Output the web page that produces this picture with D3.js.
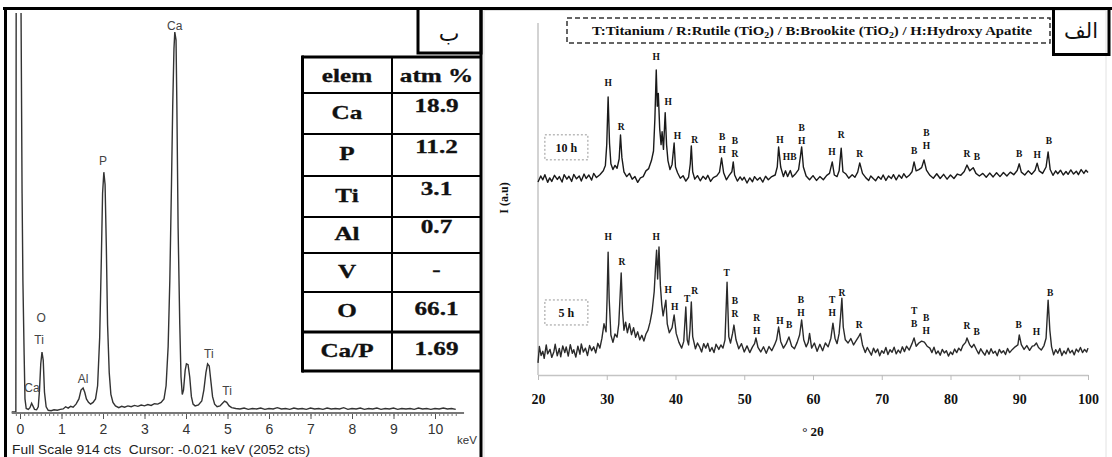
<!DOCTYPE html>
<html>
<head>
<meta charset="utf-8">
<script src="https://cdn.jsdelivr.net/npm/d3@7"></script>
<style>
  body { margin: 0; background: #fff; }
  svg { display: block; }
</style>
</head>
<body>
<svg id="fig" width="1112" height="457"></svg>
<script>
// ---------- left panel: EDS spectrum [keV, counts] ----------
const edsSpectrum = [
  [-0.2, 0], [-0.1, 0], [-0.09, 1200], [0.0, 1200], [0.02, 1000], [0.05, 500], [0.07, 300],
  [0.1, 130], [0.12, 30], [0.15, 8], [0.2, 6], [0.24, 10], [0.28, 20], [0.31, 14], [0.35, 6],
  [0.4, 5], [0.44, 12], [0.47, 50], [0.5, 110], [0.53, 137], [0.56, 118], [0.59, 45], [0.63, 12],
  [0.68, 4], [0.75, 3], [0.82, 5], [0.9, 4], [0.97, 6], [1.04, 7], [1.1, 12], [1.16, 9], [1.22, 13],
  [1.28, 11], [1.35, 18], [1.42, 30], [1.47, 50], [1.52, 55], [1.56, 45], [1.6, 30], [1.65, 22],
  [1.7, 18], [1.76, 22], [1.82, 30], [1.87, 60], [1.92, 170], [1.96, 350], [1.99, 500], [2.02, 548],
  [2.05, 520], [2.08, 380], [2.11, 200], [2.15, 90], [2.19, 40], [2.24, 22], [2.3, 14], [2.38, 10],
  [2.45, 13], [2.52, 11], [2.6, 14], [2.68, 12], [2.76, 15], [2.84, 13], [2.92, 16], [3.0, 14],
  [3.08, 17], [3.16, 15], [3.24, 19], [3.32, 18], [3.4, 22], [3.47, 30], [3.52, 60], [3.57, 150],
  [3.61, 300], [3.65, 520], [3.68, 700], [3.71, 830], [3.73, 868], [3.76, 850], [3.78, 700],
  [3.81, 420], [3.85, 200], [3.88, 80], [3.91, 40], [3.94, 50], [3.98, 95], [4.01, 110], [4.05, 108],
  [4.09, 80], [4.13, 35], [4.17, 18], [4.22, 14], [4.3, 16], [4.38, 25], [4.43, 50], [4.48, 90],
  [4.52, 110], [4.56, 105], [4.6, 70], [4.64, 35], [4.69, 18], [4.75, 12], [4.82, 14], [4.88, 20],
  [4.93, 25], [4.98, 22], [5.04, 14], [5.1, 10], [5.2, 8], [5.3, 7], [5.4, 9], [5.5, 6], [5.6, 8],
  [5.7, 7], [5.8, 9], [5.9, 6], [6.0, 8], [6.1, 7], [6.2, 10], [6.3, 7], [6.4, 8], [6.5, 6], [6.6, 9],
  [6.7, 7], [6.8, 8], [6.9, 6], [7.0, 9], [7.1, 7], [7.2, 8], [7.3, 6], [7.4, 9], [7.5, 7], [7.6, 8],
  [7.7, 7], [7.8, 10], [7.9, 6], [8.0, 8], [8.1, 7], [8.2, 9], [8.3, 6], [8.4, 8], [8.5, 7], [8.6, 9],
  [8.7, 6], [8.8, 8], [8.9, 7], [9.0, 9], [9.1, 6], [9.2, 8], [9.3, 7], [9.4, 8], [9.5, 6], [9.6, 9],
  [9.7, 7], [9.8, 8], [9.9, 6], [10.0, 8], [10.1, 7], [10.2, 9], [10.3, 7], [10.4, 8], [10.5, 6]
];
// [label, keV, counts] where the label sits
const edsPeakLabels = [
  ["Ca", 3.73, 880], ["P", 2.0, 571], ["O", 0.51, 212], ["Ti", 0.46, 162], ["Ca", 0.29, 53],
  ["Al", 1.52, 73], ["Ti", 4.55, 130], ["Ti", 4.99, 46]
];
const edsTicks = [0, 1, 2, 3, 4, 5, 6, 7, 8, 9, 10];
const edsFooter = "Full Scale 914 cts\u00a0\u00a0Cursor: -0.021 keV (2052 cts)";

// composition table
const tableHead = ["elem", "atm %"];
const elements = ["Ca", "P", "Ti", "Al", "V", "O", "Ca/P"];
const atmPercent = ["18.9", "11.2", "3.1", "0.7", "-", "66.1", "1.69"];

// ---------- right panel: XRD patterns [2theta, I (a.u.)] ----------
const xrd10h = [
  [20,60.3],[20.4,62.2],[20.7,61.0],[21,62.6],[21.4,60.2],[21.7,61.6],[22,60.5],[22.4,62.4],[22.8,61.1],
  [23.1,62.0],[23.5,60.3],[23.8,62.6],[24.2,61.2],[24.5,62.1],[24.9,60.5],[25.2,62.7],[25.6,61.3],
  [26,62.2],[26.3,60.6],[26.7,62.8],[27,61.4],[27.4,62.5],[27.8,60.9],[28.1,63.0],[28.5,61.7],
  [29,62.6],[29.5,63.8],[29.8,65.5],[30.0,72],[30.2,86.9],[30.4,72.5],[30.6,66],[30.9,64.2],[31.2,65.5],
  [31.5,64.6],[31.8,67.5],[32.0,75],[32.2,68],[32.5,63.5],[32.9,62.0],[33.3,63.0],[33.7,61.2],[34.1,62.0],
  [34.5,60.2],[34.9,61.6],[35.3,62.0],[35.7,63.8],[36.1,64.5],[36.5,67],[36.8,70],[37.0,80],[37.2,95.3],
  [37.35,84],[37.5,88],[37.7,77],[37.9,72],[38.05,76],[38.25,70.5],[38.5,82],[38.7,72],[38.9,67],
  [39.2,64.2],[39.5,65.8],[39.8,72.5],[40.0,65],[40.3,63.2],[40.7,61.5],[41.1,62.3],[41.5,60.6],
  [41.9,61.8],[42.15,66],[42.3,71.6],[42.5,63.5],[42.8,61.2],[43.2,62.3],[43.6,60.7],[44,62.1],
  [44.4,61.2],[44.7,62.4],[45.1,60.5],[45.5,61.7],[46,62.2],[46.4,63.4],[46.7,67.8],[47.0,63.2],[47.4,61.0],
  [47.8,62.4],[48.2,63.5],[48.4,66.6],[48.6,62.5],[49,60.6],[49.4,61.9],[49.7,60.9],[50,61.8],[50.4,60.0],
  [50.8,61.6],[51.2,60.4],[51.5,62.0],[51.9,60.9],[52.3,61.7],[52.7,60.3],[53.1,62.1],[53.5,61.0],
  [54,62.0],[54.5,62.5],[54.8,65],
  [55.0,71.3],[55.3,65],[55.7,62.0],[56.0,63.8],[56.3,62.0],[56.7,63.9],[57.0,61.9],[57.5,63.0],
  [57.9,64.2],[58.15,68],[58.35,71.3],[58.6,65],[59,62.2],[59.5,61.0],[60,62.3],[60.5,60.8],[61,62.0],
  [61.5,61.0],[62,62.4],[62.4,63.0],[62.8,66.6],[63.1,62.5],[63.5,62.0],[63.8,63.8],[64.1,70.9],
  [64.35,63.5],[64.8,62.8],[65.2,61.5],[65.7,62.6],[66.1,61.8],[66.5,63.4],[66.8,66.3],[67.2,63.0],
  [67.7,61.6],[68.1,60.8],[68.4,62.2],[68.8,61.3],[69.1,60.7],[69.5,62.0],[69.9,61.2],[70.2,62.5],
  [70.6,60.8],[71,62.2],[71.4,61.4],[71.7,62.6],[72.1,61.0],[72.5,62.5],[72.9,61.5],[73.2,62.9],
  [73.6,61.7],[74,62.4],[74.4,63.5],[74.7,66.6],[75.0,63.8],[75.4,64.2],
  [75.8,64.8],[76.15,67.2],[76.5,64],[77,62.4],[77.5,61.5],[78,62.9],[78.5,61.4],[79,62.7],[79.5,61.2],
  [80,62.5],[80.5,61.4],[81,62.8],[81.5,62.4],[82,63.6],[82.4,65.6],[82.8,63.8],[83.3,64.8],[83.7,63.0],
  [84.2,62.2],[84.7,63.0],[85.2,61.8],[85.7,63.1],[86.2,61.9],[86.7,63.2],[87.2,62.0],[87.7,63.3],
  [88.2,62.2],[88.7,63.4],[89.2,62.6],[89.7,63.9],[90.0,66],[90.3,63.4],[90.8,62.5],[91.3,63.8],
  [91.8,62.7],[92.3,64],[92.6,66.2],[92.9,63.8],[93.4,63.0],[93.9,65],[94.2,69.7],[94.5,64.2],
  [94.9,62.4],[95.3,63.8],[95.6,62.9],[96,64.0],[96.4,62.5],[96.8,63.6],[97.1,62.7],[97.5,64.1],
  [97.9,62.8],[98.3,63.7],[98.6,62.6],[99,64.2],[99.4,63.0],[99.7,64.0],[100,63.3]
];
const xrd5h = [
  [20,3.8],[20.2,8.9],[20.45,6.1],[20.7,7.4],[20.9,5.2],[21.2,9.4],[21.4,6.6],[21.75,8.0],[22.0,5.5],
  [22.3,7.2],[22.5,9.6],[22.8,6.0],[23.1,8.3],[23.3,5.7],[23.6,9.1],[23.9,7.0],[24.1,8.8],[24.4,5.9],
  [24.7,9.5],[25.0,6.8],[25.2,7.9],[25.5,5.6],[25.8,9.0],[26.1,6.5],[26.3,9.7],[26.6,7.2],[26.9,8.4],
  [27.2,6.1],[27.5,9.2],[27.8,7.6],[28.1,8.8],[28.4,6.9],[28.7,9.9],[29.0,8.4],
  [29.3,11.5],[29.6,16],[29.9,13.5],
  [30.05,24],[30.2,38.4],[30.35,24],[30.6,12.5],[30.9,10.2],[31.2,12.8],[31.5,11.8],[31.75,16],
  [31.95,25],[32.1,31.9],[32.3,20],[32.5,14],[32.75,16.5],[33.0,13.2],[33.3,16.0],[33.6,12.6],
  [33.9,14.8],[34.2,11.8],[34.5,13.5],[34.8,11.0],[35.1,12.4],[35.4,10.6],[35.7,12.8],[36.0,14.0],
  [36.3,16.5],[36.6,20],[36.9,26],[37.1,34],[37.25,39],[37.4,30],[37.6,40],[37.8,28],[38.0,22],
  [38.2,18.5],[38.4,21],[38.6,23.4],[38.8,16],[39.1,13.2],[39.5,14.8],[39.8,18.75],[40.1,13],
  [40.5,10.2],[40.9,8.4],[41.2,10.5],[41.5,21.25],[41.7,11],[41.9,9.4],[42.1,14],[42.3,22.8],[42.5,12],
  [42.9,8.2],[43.2,10.0],[43.5,8.8],[43.8,7.2],[44.1,9.8],[44.4,8.4],[44.7,9.9],[45.0,7.4],[45.3,8.6],
  [45.6,7.0],[45.9,9.6],[46.3,8.0],[46.6,9.4],[46.9,8.4],[47.2,11],[47.5,29],[47.75,12],[48.0,10.0],
  [48.3,13],[48.5,15.6],[48.8,11],[49.2,8.2],[49.6,9.8],[50.0,7.2],[50.4,9.1],[50.8,7.0],[51.2,8.8],
  [51.5,9.8],[51.7,11.6],[52.0,8.6],[52.4,7.2],[52.8,8.8],[53.2,6.8],[53.6,8.9],[54.0,7.6],[54.4,9.4],
  [54.7,11],[55.0,15],[55.3,10.5],[55.7,8.4],[56.1,9.8],[56.5,11.9],[56.9,9.0],[57.3,8.2],[57.7,10.2],
  [58.05,12.5],[58.35,17.2],[58.65,11],[59.0,8.8],[59.3,10.2],[59.5,13],[59.8,8.4],[60.2,10.0],
  [60.6,7.4],[61.0,9.6],[61.4,7.6],[61.8,10.0],[62.2,8.8],[62.6,11.5],[62.9,16.2],[63.2,11.5],
  [63.5,9.8],[63.8,13],[64.0,18],[64.2,24],[64.4,15],[64.7,11],[65.1,10.0],[65.5,11.4],[65.9,9.4],
  [66.3,10.8],[66.6,11.8],[66.9,13],[67.2,9.4],[67.6,7.0],[67.9,8.6],[68.2,7.4],[68.5,6.2],[68.8,8.4],
  [69.1,7.0],[69.4,8.1],[69.7,6.0],[70.0,7.6],[70.3,6.8],[70.6,8.6],[70.9,6.4],[71.2,7.9],[71.5,7.1],
  [71.8,8.7],[72.1,6.6],[72.4,7.8],[72.7,6.9],[73.0,8.8],[73.3,7.3],[73.6,9.0],[74.0,7.8],[74.4,9.8],
  [74.7,11.6],[75.0,9.0],[75.4,10.0],[75.8,10.6],[76.2,10.3],[76.6,9.0],[77.0,8.4],[77.3,7.0],
  [77.6,8.7],[77.9,6.6],[78.2,7.5],[78.5,6.2],[78.8,8.0],[79.1,6.9],[79.4,7.6],[79.7,5.9],[80.0,7.2],
  [80.3,6.4],[80.6,8.1],[80.9,7.0],[81.2,8.4],[81.5,7.6],[81.8,9.2],[82.2,10.2],[82.4,11.6],[82.8,9.4],
  [83.1,8.6],[83.4,9.6],[83.8,7.8],[84.1,6.6],[84.4,8.2],[84.7,7.1],[85.0,6.2],[85.3,7.8],[85.6,6.5],
  [85.9,8.2],[86.2,6.8],[86.5,7.4],[86.8,6.0],[87.1,8.0],[87.4,6.9],[87.7,7.6],[88.0,6.4],[88.3,8.3],
  [88.6,7.0],[89.0,8.0],[89.4,8.8],[89.8,9.4],[90.0,12.5],[90.3,9.5],[90.7,8.0],[91.1,9.2],[91.5,7.7],
  [91.9,9.0],[92.2,9.2],[92.5,10.0],[92.8,8.6],[93.2,7.8],[93.6,9.2],[93.9,11.5],[94.2,23.4],[94.45,14],
  [94.7,8.8],[95.0,6.3],[95.3,7.9],[95.6,6.8],[95.9,8.3],[96.2,6.1],[96.5,7.5],[96.8,6.6],[97.1,8.4],
  [97.4,6.9],[97.7,7.7],[98.0,6.3],[98.3,8.1],[98.6,7.2],[98.9,8.6],[99.2,7.0],[99.5,8.0],[99.8,7.2],
  [100,8.4]
];
// [2theta, I of lowest label line, phases stacked top|bottom]
const labels10h = [
  [30.2,91.3,"H"],[32.1,77.5,"R"],[37.2,99.4,"H"],[38.95,85.3,"H"],[40.3,74.7,"H"],[42.8,73.4,"R"],
  [46.8,70.3,"B|H"],[48.65,69.1,"B|R"],[55.2,73.4,"H"],[56.6,68.1,"HB"],[58.35,73.1,"B|H"],
  [62.75,69.7,"H"],[64.1,75,"R"],[66.8,69.1,"R"],[74.7,70,"B"],[76.5,71.6,"B|H"],[82.4,69.1,"R"],
  [83.85,68.1,"B"],[90,69.1,"B"],[92.6,68.75,"H"],[94.3,73.1,"B"]
];
const labels5h = [
  [30.2,43.1,"H"],[32.2,35.3,"R"],[37.2,43.1,"H"],[38.95,26.6,"H"],[39.9,21.25,"H"],[41.7,23.75,"T"],
  [42.8,26.25,"R"],[47.45,31.9,"T"],[48.65,19.1,"B|R"],[51.8,13.75,"R|H"],[55.2,16.9,"H"],
  [56.55,15.6,"B"],[58.25,19.4,"B|H"],[62.8,19.4,"T|H"],[64.2,25.6,"R"],[66.7,15.6,"R"],
  [74.7,15.9,"T|B"],[76.45,13.75,"B|H"],[82.4,15.3,"R"],[83.8,13.4,"B"],[89.9,15.6,"B"],
  [92.5,13.4,"H"],[94.5,25.6,"B"]
];
const sampleNames = ["10 h", "5 h"];
const sampleLevels = [71.3, 19.7]; // I (a.u.) at box centre
const xrdTicks = [20, 30, 40, 50, 60, 70, 80, 90, 100];

const svg = d3.select("#fig");
const serif = "'Liberation Serif', 'Times New Roman', serif";
const sans = "'Liberation Sans', Arial, sans-serif";

// ================= EDS =================
const xE = d3.scaleLinear().domain([0, 10]).range([20, 435]);
const yE = d3.scaleLinear().domain([0, 914]).range([412, 12]);

svg.append("clipPath").attr("id", "edsClip")
  .append("rect").attr("x", 8).attr("y", 13).attr("width", 470).attr("height", 400);

const eds = svg.append("g");
eds.append("path")
  .attr("clip-path", "url(#edsClip)")
  .attr("d", d3.line().x(d => xE(d[0])).y(d => yE(d[1]))(edsSpectrum))
  .attr("fill", "none").attr("stroke", "#333").attr("stroke-width", 1.4);

eds.selectAll("text.pk").data(edsPeakLabels).join("text")
  .attr("class", "pk")
  .attr("x", d => xE(d[1])).attr("y", d => yE(d[2]))
  .attr("text-anchor", "middle").attr("dominant-baseline", "middle")
  .attr("font-family", sans).attr("font-size", 12).attr("fill", "#444")
  .text(d => d[0]);

// axis: minor ticks, major ticks, base line
const edsAxisY = 413;
const minor = d3.range(-1, 106).map(i => i / 10);
eds.append("g").attr("transform", `translate(0,${edsAxisY})`)
  .call(d3.axisBottom(xE).tickValues(minor).tickSize(3).tickFormat(""))
  .call(g => g.select(".domain").remove())
  .call(g => g.selectAll("line").attr("stroke", "#777"));
eds.append("g").attr("transform", `translate(0,${edsAxisY})`)
  .call(d3.axisBottom(xE).tickValues(edsTicks).tickSize(6).tickPadding(5).tickFormat(d3.format("d")))
  .call(g => g.select(".domain").remove())
  .call(g => g.selectAll("line").attr("stroke", "#555"))
  .call(g => g.selectAll("text").attr("font-family", sans).attr("font-size", 14).attr("fill", "#333"));
eds.append("line")
  .attr("x1", xE(-0.2)).attr("x2", xE(10.7)).attr("y1", edsAxisY).attr("y2", edsAxisY)
  .attr("stroke", "#777").attr("stroke-width", 2);
eds.append("text").attr("x", 467).attr("y", 444)
  .attr("text-anchor", "middle").attr("font-family", sans).attr("font-size", 11.5).attr("fill", "#333")
  .text("keV");
eds.append("text").attr("x", 12).attr("y", 454)
  .attr("font-family", sans).attr("font-size", 12).attr("fill", "#222")
  .attr("textLength", 298).attr("lengthAdjust", "spacingAndGlyphs")
  .text(edsFooter);

// ================= table =================
const rowEdges = [57, 93, 134, 176, 217, 253, 292, 332, 371];
const tX0 = 302, tX1 = 481, tXm = 392;
const tbl = svg.append("g");
tbl.append("rect").attr("x", tX0).attr("y", rowEdges[0]).attr("width", tX1 - tX0)
  .attr("height", rowEdges[8] - rowEdges[0]).attr("fill", "#fff");
tbl.selectAll("line.row").data(rowEdges).join("line").attr("class", "row")
  .attr("x1", tX0).attr("x2", tX1).attr("y1", d => d).attr("y2", d => d)
  .attr("stroke", "#000").attr("stroke-width", (d, i) => (i === 0 || i >= 7) ? 3 : 2);
tbl.append("line").attr("x1", tX0 + 0.5).attr("x2", tX0 + 0.5).attr("y1", rowEdges[0] - 1.5).attr("y2", rowEdges[8] + 1.5)
  .attr("stroke", "#000").attr("stroke-width", 3);
tbl.append("line").attr("x1", tXm).attr("x2", tXm).attr("y1", rowEdges[0]).attr("y2", rowEdges[8])
  .attr("stroke", "#000").attr("stroke-width", 2);

function cell(txt, cx, cy) {
  tbl.append("g").attr("transform", `translate(${cx},${cy}) scale(1.4,1)`)
    .append("text").attr("text-anchor", "middle").attr("dominant-baseline", "central")
    .attr("font-family", serif).attr("font-weight", "bold").attr("font-size", 18).attr("fill", "#111")
    .attr("stroke", "#111").attr("stroke-width", 0.3)
    .text(txt);
}
cell(tableHead[0], (tX0 + tXm) / 2, 76);
cell(tableHead[1], (tXm + tX1) / 2, 76);
elements.forEach((el, i) => {
  const mid = (rowEdges[i + 1] + rowEdges[i + 2]) / 2;
  cell(el, (tX0 + tXm) / 2, mid - 1);
  cell(atmPercent[i], (tXm + tX1) / 2, mid - (i < 4 ? 8 : 3));
});

// ================= XRD =================
const xX = d3.scaleLinear().domain([20, 100]).range([538, 1088]);
const yX = d3.scaleLinear().domain([0, 100]).range([375, 55]);
const xrd = svg.append("g");

// faint frame of the right figure
xrd.append("rect").attr("x", 484).attr("y", 10.5).attr("width", 622).attr("height", 450)
  .attr("fill", "none").attr("stroke", "#e2e2e2");

xrd.append("g").attr("transform", "translate(0,375)")
  .call(d3.axisBottom(xX).tickValues(xrdTicks).tickSize(5).tickSizeOuter(0).tickPadding(14))
  .call(g => g.select(".domain").attr("stroke", "#c4c4c4").attr("stroke-width", 1.5))
  .call(g => g.selectAll("line").attr("stroke", "#bbb"))
  .call(g => g.selectAll("text").attr("font-family", serif).attr("font-weight", "bold")
    .attr("font-size", 14).attr("fill", "#111"));
xrd.append("line").attr("x1", xX(20)).attr("x2", xX(20)).attr("y1", 23).attr("y2", 375)
  .attr("stroke", "#c4c4c4").attr("stroke-width", 1.5);

xrd.append("text").attr("x", 813).attr("y", 436).attr("text-anchor", "middle")
  .attr("font-family", serif).attr("font-weight", "bold").attr("font-size", 13).attr("fill", "#111")
  .text("° 2θ");
xrd.append("text").attr("transform", "translate(508,198) rotate(-90)").attr("text-anchor", "middle")
  .attr("font-family", serif).attr("font-weight", "bold").attr("font-size", 12).attr("fill", "#111")
  .text("I (a.u)");

const xrdLine = d3.line().x(d => xX(d[0])).y(d => yX(d[1]));
[xrd10h, xrd5h].forEach((s, k) => {
  xrd.append("path").attr("d", xrdLine(s))
    .attr("fill", "none").attr("stroke", k === 0 ? "#1a1a1a" : "#2a2a2a")
    .attr("stroke-width", 1.4).attr("stroke-linejoin", "round");
});

[labels10h, labels5h].forEach(set => {
  set.forEach(([t, I, txt]) => {
    const lines = txt.split("|");
    lines.forEach((ln, j) => {
      xrd.append("text")
        .attr("x", xX(t)).attr("y", yX(I) - (lines.length - 1 - j) * 13)
        .attr("text-anchor", "middle").attr("dominant-baseline", "central")
        .attr("font-family", serif).attr("font-weight", "bold").attr("font-size", 9.5).attr("fill", "#111")
        .text(ln);
    });
  });
});

sampleNames.forEach((nm, k) => {
  const cy = yX(sampleLevels[k]);
  xrd.append("rect").attr("x", xX(21)).attr("y", cy - 12).attr("width", 43).attr("height", 25)
    .attr("fill", "none").attr("stroke", "#999").attr("stroke-dasharray", "2,2");
  xrd.append("text").attr("x", xX(21) + 21.5).attr("y", cy + 1)
    .attr("text-anchor", "middle").attr("dominant-baseline", "central")
    .attr("font-family", serif).attr("font-weight", "bold").attr("font-size", 12).attr("fill", "#111")
    .text(nm);
});

// legend box with phase key
xrd.append("rect").attr("x", 567).attr("y", 18).attr("width", 483).attr("height", 25)
  .attr("fill", "none").attr("stroke", "#333").attr("stroke-width", 1.5).attr("stroke-dasharray", "5,3");
const key = xrd.append("text").attr("x", 592).attr("y", 35)
  .attr("font-family", serif).attr("font-weight", "bold").attr("font-size", 12).attr("fill", "#111")
  .attr("textLength", 440).attr("lengthAdjust", "spacingAndGlyphs");
[["T:Titanium / R:Rutile (TiO", 0], ["2", 1], [") / B:Brookite (TiO", 0], ["2", 1], [") / H:Hydroxy Apatite", 0]]
  .forEach(([s, sub]) => {
    const ts = key.append("tspan").text(s);
    if (sub) ts.attr("font-size", 8).attr("dy", 3);
    else if (s.startsWith(")")) ts.attr("dy", -3);
  });

// ================= frames and panel tags =================
const fr = svg.append("g").attr("fill", "none").attr("stroke", "#000").attr("stroke-width", 3);
fr.append("line").attr("x1", 3).attr("x2", 1112).attr("y1", 8.5).attr("y2", 8.5);
fr.append("line").attr("x1", 5.5).attr("x2", 5.5).attr("y1", 7).attr("y2", 457);
fr.append("line").attr("x1", 481).attr("x2", 481).attr("y1", 7).attr("y2", 457);
fr.append("rect").attr("x", 418).attr("y", 8.5).attr("width", 63).attr("height", 44.5);
fr.append("rect").attr("x", 1053.5).attr("y", 8.5).attr("width", 55.5).attr("height", 46);

svg.append("text").attr("x", 449).attr("y", 33).attr("text-anchor", "middle")
  .attr("dominant-baseline", "central").attr("font-family", "'DejaVu Sans', sans-serif")
  .attr("font-size", 22).attr("fill", "#111").text("ب");
svg.append("text").attr("x", 1081).attr("y", 31).attr("text-anchor", "middle")
  .attr("dominant-baseline", "central").attr("font-family", "'DejaVu Sans', sans-serif")
  .attr("font-size", 21).attr("fill", "#111").text("الف");
</script>
</body>
</html>
